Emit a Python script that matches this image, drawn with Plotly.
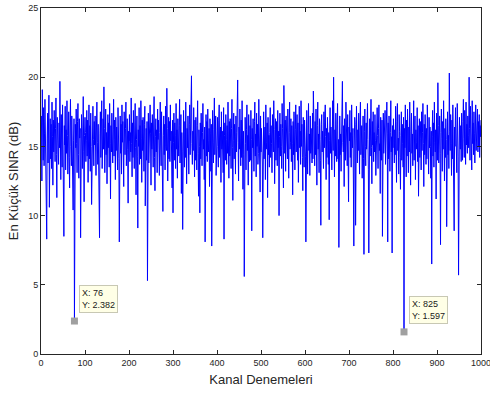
import plotly.graph_objects as go

min_sinr = [
17.2, 12.5, 19.1, 16.4, 14.0, 17.8, 13.6, 15.9, 18.4, 14.3, 16.8, 12.9, 8.3, 15.6, 17.4, 13.8, 16.1, 18.7, 10.6, 15.2,
17.0, 14.1, 16.6, 13.4, 18.2, 15.7, 12.2, 16.9, 14.6, 17.6, 15.0, 13.9, 16.3, 18.5, 14.4, 11.3, 17.1, 15.5, 16.0, 13.7,
16.7, 14.9, 19.7, 15.3, 12.6, 17.3, 16.0, 13.5, 18.0, 14.7, 11.7, 8.5, 16.5, 15.1, 17.9, 13.3, 16.2, 14.5, 18.3, 15.8,
13.0, 16.9, 17.5, 14.2, 12.0, 16.4, 18.4, 15.0, 13.6, 17.2, 14.8, 16.1, 10.4, 15.4, 17.0, 2.382, 13.8, 16.6, 14.9, 17.7,
15.2, 13.1, 16.8, 18.1, 14.4, 12.7, 17.0, 15.6, 16.3, 8.4, 14.0, 17.3, 15.9, 13.4, 16.7, 18.6, 14.6, 11.0, 15.8, 17.1,
16.0, 13.9, 15.4, 17.6, 14.3, 16.9, 12.4, 15.7, 18.0, 14.1, 16.5, 13.2, 17.4, 15.0, 10.8, 16.2, 14.7, 17.9, 15.5, 13.6,
16.8, 15.1, 17.2, 14.0, 12.9, 16.4, 18.2, 15.3, 13.7, 16.6, 14.5, 11.9, 8.4, 15.9, 17.5, 14.2, 16.1, 18.3, 13.4, 15.6,
17.0, 14.8, 19.3, 16.3, 13.1, 15.4, 17.7, 14.4, 16.0, 12.3, 15.8, 17.3, 14.9, 16.7, 13.5, 18.1, 15.2, 11.2, 16.5, 14.6,
17.4, 15.0, 13.8, 16.2, 18.4, 14.3, 16.9, 15.5, 12.6, 17.1, 14.7, 16.4, 15.1, 13.3, 17.8, 16.0, 14.1, 8.1, 15.7, 17.2,
14.5, 16.6, 13.0, 18.0, 15.3, 16.8, 14.0, 12.1, 17.5, 15.9, 14.4, 16.3, 18.2, 13.6, 15.6, 17.0, 14.8, 10.9, 16.1, 15.4,
17.3, 13.9, 16.0, 14.6, 18.5, 15.2, 12.8, 16.7, 14.2, 17.6, 15.8, 13.4, 16.4, 18.1, 14.9, 11.5, 15.5, 17.2, 14.3, 9.1,
16.2, 15.0, 17.8, 13.7, 16.5, 14.1, 18.3, 15.6, 12.4, 16.9, 14.7, 17.1, 15.3, 13.2, 16.6, 17.9, 10.7, 15.1, 16.3, 14.0,
16.8, 5.3, 15.4, 17.4, 13.8, 16.1, 14.5, 18.0, 15.9, 12.2, 16.7, 14.8, 17.3, 15.2, 13.5, 16.4, 18.6, 14.2, 11.8, 15.7,
17.0, 14.6, 16.2, 13.1, 17.7, 15.5, 16.9, 14.3, 12.9, 16.0, 18.2, 15.1, 13.6, 17.5, 14.9, 16.5, 10.3, 15.8, 17.2, 14.4,
16.6, 13.3, 17.9, 15.0, 14.7, 19.2, 16.3, 12.5, 15.6, 17.1, 14.1, 16.8, 13.9, 18.0, 15.4, 16.1, 14.5, 12.0, 16.9, 10.2,
15.3, 17.4, 14.0, 16.7, 15.8, 13.4, 18.1, 14.8, 16.2, 12.7, 17.0, 15.5, 14.3, 16.5, 18.4, 13.8, 15.9, 17.3, 11.6, 16.0,
14.6, 9.0, 16.4, 17.6, 15.1, 13.5, 16.8, 14.2, 18.2, 15.7, 12.3, 16.3, 14.9, 17.2, 15.4, 13.0, 16.6, 18.0, 14.4, 15.9,
17.5, 20.1, 15.2, 13.7, 16.1, 14.7, 17.8, 15.6, 12.8, 16.9, 14.0, 17.1, 15.3, 13.3, 16.5, 18.3, 14.5, 11.4, 16.2, 15.0,
10.2, 16.7, 14.1, 17.4, 15.8, 13.6, 16.0, 18.1, 14.8, 15.5, 12.6, 16.4, 8.1, 15.1, 17.3, 14.3, 16.8, 13.9, 17.7, 15.4,
14.6, 16.3, 12.1, 17.0, 15.9, 13.2, 16.6, 7.8, 14.9, 17.6, 15.3, 13.8, 16.2, 18.5, 14.4, 15.7, 17.2, 12.9, 16.0, 14.7,
17.1, 15.0, 13.5, 16.9, 18.0, 14.2, 15.6, 16.4, 12.4, 17.5, 14.8, 16.1, 15.2, 13.1, 17.8, 8.3, 15.8, 16.7, 14.0, 17.3,
15.5, 13.7, 16.5, 14.5, 18.2, 15.1, 12.7, 16.8, 14.3, 17.0, 15.9, 13.4, 16.3, 18.4, 14.9, 11.1, 15.4, 17.4, 14.1, 16.6,
15.7, 13.0, 17.2, 14.6, 16.0, 18.1, 19.8, 15.3, 12.5, 16.4, 14.8, 17.7, 15.0, 13.6, 16.9, 14.2, 18.3, 15.6, 11.9, 16.1,
14.4, 5.6, 16.7, 17.1, 15.2, 13.3, 16.2, 18.0, 14.7, 15.8, 12.2, 17.3, 15.1, 13.9, 16.5, 14.0, 17.6, 15.5, 8.9, 16.3,
14.9, 17.0, 15.4, 13.2, 16.8, 18.2, 14.3, 15.9, 12.8, 17.4, 15.0, 16.6, 13.7, 14.5, 18.4, 15.7, 16.1, 11.7, 17.2, 14.6,
16.3, 15.1, 13.8, 8.4, 16.9, 17.5, 14.1, 15.6, 16.4, 12.6, 18.0, 14.8, 15.3, 16.7, 11.3, 17.1, 14.4, 15.8, 13.5, 16.0,
17.8, 14.2, 16.5, 15.2, 13.1, 17.3, 15.9, 14.6, 18.3, 16.2, 12.3, 15.5, 17.0, 14.0, 16.8, 15.4, 13.6, 17.6, 14.9, 16.1,
10.0, 15.7, 17.4, 14.3, 16.6, 15.0, 13.4, 18.1, 16.3, 14.7, 12.0, 19.4, 15.8, 14.5, 16.9, 13.2, 17.2, 15.1, 16.4, 14.1,
17.7, 15.6, 12.7, 16.0, 18.2, 14.8, 15.3, 17.0, 13.9, 16.5, 15.2, 11.5, 16.8, 14.4, 17.5, 15.9, 13.3, 16.2, 18.0, 14.6,
15.5, 17.3, 14.0, 16.7, 12.4, 15.8, 17.9, 14.9, 16.1, 13.7, 18.3, 15.0, 16.6, 14.2, 11.8, 17.1, 15.4, 13.5, 16.9, 15.7,
14.3, 8.1, 16.4, 17.6, 15.1, 13.0, 16.0, 18.1, 14.7, 15.9, 12.9, 17.2, 14.5, 16.3, 15.6, 13.8, 17.4, 14.1, 19.0, 16.2,
15.0, 13.6, 16.8, 14.4, 17.7, 15.3, 12.2, 16.5, 18.2, 14.8, 15.9, 13.1, 17.0, 15.5, 14.0, 9.3, 16.6, 17.3, 14.6, 16.1,
15.2, 13.4, 17.5, 14.9, 16.7, 18.0, 15.7, 12.6, 16.3, 14.2, 17.1, 15.8, 13.7, 16.0, 9.7, 15.4, 17.8, 14.5, 16.4, 15.1,
13.3, 16.9, 18.3, 14.7, 20.0, 15.6, 12.8, 16.2, 14.3, 17.4, 15.0, 13.9, 16.6, 18.1, 14.1, 15.5, 7.7, 16.8, 17.2, 14.4,
15.9, 13.2, 16.1, 17.7, 19.7, 15.3, 14.6, 16.5, 12.1, 17.0, 15.7, 14.0, 18.2, 15.2, 16.7, 13.6, 17.3, 14.8, 11.0, 16.4,
15.4, 17.6, 14.2, 16.0, 13.5, 18.0, 15.8, 14.9, 16.3, 12.5, 7.8, 15.1, 17.1, 16.6, 9.3, 14.5, 17.9, 15.6, 13.8, 16.2,
14.7, 17.4, 15.3, 13.0, 16.9, 18.2, 14.4, 15.9, 16.5, 12.7, 15.2, 17.2, 14.1, 7.2, 16.1, 17.7, 15.0, 13.6, 16.7, 14.8,
16.4, 18.1, 15.5, 13.3, 7.3, 15.7, 17.0, 14.3, 16.2, 18.4, 14.9, 12.3, 16.8, 15.1, 17.5, 13.9, 16.0, 14.6, 17.3, 15.4,
12.9, 16.6, 14.2, 17.8, 15.8, 13.4, 16.3, 18.0, 14.7, 15.2, 11.6, 17.1, 15.6, 14.0, 16.9, 8.5, 15.3, 17.4, 14.5, 16.1,
15.0, 17.6, 13.7, 16.4, 14.8, 18.2, 15.9, 8.1, 16.7, 14.1, 17.2, 15.5, 13.2, 16.0, 18.3, 14.6, 15.7, 7.3, 16.5, 14.9,
17.0, 15.3, 13.8, 16.2, 14.4, 17.9, 15.1, 12.4, 16.8, 18.1, 14.7, 15.6, 13.0, 17.3, 16.1, 14.2, 11.9, 15.8, 17.5, 14.0,
16.6, 15.2, 13.5, 17.1, 1.597, 16.3, 14.9, 18.0, 15.4, 12.8, 16.9, 14.3, 17.7, 15.7, 13.1, 16.4, 14.6, 18.2, 15.0, 12.2,
16.1, 17.4, 14.5, 15.9, 13.6, 16.7, 18.3, 14.0, 15.5, 17.2, 12.6, 16.2, 14.8, 15.3, 17.8, 13.9, 16.5, 11.4, 15.1, 17.0,
14.2, 16.8, 15.6, 13.3, 17.5, 14.7, 16.0, 18.1, 15.2, 12.1, 16.6, 14.4, 17.3, 15.8, 13.7, 16.3, 14.1, 18.0, 15.4, 16.9,
13.0, 17.1, 14.9, 16.4, 15.0, 12.7, 16.1, 6.5, 15.7, 17.6, 14.3, 16.7, 13.5, 18.2, 15.3, 14.6, 16.2, 11.2, 17.4, 15.9,
14.0, 19.6, 16.5, 13.8, 15.1, 17.2, 14.5, 7.9, 16.0, 17.7, 15.6, 13.2, 16.8, 14.8, 18.3, 15.0, 12.5, 16.3, 14.2, 17.0,
15.5, 9.2, 16.6, 17.5, 14.4, 15.8, 13.4, 20.3, 16.1, 14.7, 17.3, 15.2, 12.9, 16.9, 14.1, 18.0, 15.7, 13.6, 8.9, 16.4,
15.0, 17.8, 14.6, 16.2, 13.1, 18.1, 15.4, 14.3, 5.7, 16.7, 17.1, 15.9, 14.8, 16.5, 13.9, 17.4, 15.3, 14.0, 16.8, 18.4,
15.6, 14.2, 17.6, 16.0, 13.7, 18.2, 15.1, 16.6, 14.5, 17.2, 15.8, 14.9, 20.0, 16.3, 14.0, 17.9, 15.5, 16.9, 13.3, 18.3,
15.2, 16.7, 14.4, 17.5, 15.9, 13.8, 16.4, 18.0, 14.7, 16.1, 15.3, 17.7, 14.6, 16.8, 15.0, 17.3, 14.2, 16.5, 15.7, 16.9,
]
trials = list(range(1, len(min_sinr) + 1))

cursor_x = [76, 825]
cursor_y = [2.382, 1.597]

x_ticks = [0, 100, 200, 300, 400, 500, 600, 700, 800, 900, 1000]
y_ticks = [0, 5, 10, 15, 20, 25]

axis_color = "#262626"
font_family = "Liberation Sans, Arial, sans-serif"

fig = go.Figure()
fig.add_trace(go.Scatter(
    x=trials, y=min_sinr, mode="lines",
    line=dict(color="#0000ff", width=1),
    showlegend=False, hoverinfo="x+y",
))
fig.add_trace(go.Scatter(
    x=cursor_x, y=cursor_y, mode="markers",
    marker=dict(symbol="square", size=7, color="#a0a0a0", line=dict(width=0)),
    showlegend=False,
))

for cx, cy in zip(cursor_x, cursor_y):
    fig.add_annotation(
        x=cx, y=cy, xref="x", yref="y",
        text=f"X: {cx}<br>Y: {cy}",
        showarrow=False, xanchor="left", yanchor="bottom",
        xshift=5, yshift=8, align="left",
        font=dict(family=font_family, size=9, color="#1a1a1a"),
        bgcolor="#ffffe6", bordercolor="#c8c8b4", borderwidth=1, borderpad=2,
    )

axis_common = dict(
    showline=True, linecolor=axis_color, linewidth=1, mirror="ticks",
    ticks="inside", ticklen=4, tickcolor=axis_color, tickwidth=1,
    showgrid=False, zeroline=False, automargin=False,
    ticklabeloverflow="allow",
    tickfont=dict(family=font_family, size=9, color=axis_color),
)

fig.update_layout(
    width=490, height=397,
    margin=dict(l=41, r=9, t=8, b=43),
    paper_bgcolor="white", plot_bgcolor="white",
    xaxis=dict(range=[0, 1000], tickvals=x_ticks,
               title=dict(text="Kanal Denemeleri", standoff=8,
                          font=dict(family=font_family, size=13, color=axis_color)),
               **axis_common),
    yaxis=dict(range=[0, 25], tickvals=y_ticks,
               title=dict(text="En Küçük SINR (dB)", standoff=6,
                          font=dict(family=font_family, size=13, color=axis_color)),
               **axis_common),
)

fig.write_html("out.html", config={"displayModeBar": False},
               post_script="document.body.style.margin='0';")
